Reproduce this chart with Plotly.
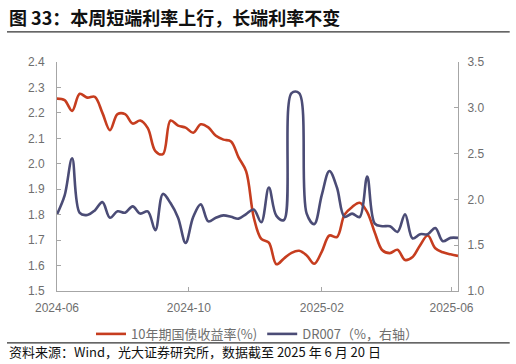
import pandas as pd
import plotly.graph_objects as go

dates = pd.date_range("2024-06-01", periods=54, freq="7D")

cgb10y = [2.256, 2.25, 2.208, 2.275, 2.26, 2.263, 2.20, 2.132, 2.195, 2.195,
          2.158, 2.17, 2.14, 2.05, 2.038, 2.17, 2.15, 2.142, 2.122, 2.155,
          2.143, 2.11, 2.095, 2.088, 2.025, 1.97, 1.79, 1.705, 1.69, 1.605,
          1.628, 1.65, 1.658, 1.64, 1.607, 1.655, 1.718, 1.712, 1.80, 1.83,
          1.847, 1.81, 1.73, 1.66, 1.649, 1.662, 1.622, 1.634, 1.68, 1.718,
          1.668, 1.652, 1.644, 1.638]

dr007 = [1.837, 2.04, 2.45, 1.852, 1.83, 1.88, 1.97, 1.80, 1.87, 1.855,
         1.924, 1.845, 1.87, 1.663, 2.06, 1.96, 1.80, 1.525, 1.808, 1.946,
         1.76, 1.80, 1.826, 1.81, 1.79, 1.84, 1.89, 1.75, 2.13, 1.82,
         1.775, 3.16, 3.16, 1.845, 1.73, 2.05, 2.31, 2.13, 1.81, 1.845,
         1.808, 2.25, 1.736, 1.707, 1.707, 1.645, 1.837, 1.573, 1.62, 1.62,
         1.688, 1.543, 1.58, 1.58]

tick_vals = ["2024-06-01", "2024-10-01", "2025-02-01", "2025-06-01"]
tick_text = ["2024-06", "2024-10", "2025-02", "2025-06"]

title_text = "图 33：本周短端利率上行，长端利率不变"
source_text = "资料来源：Wind，光大证券研究所，数据截至 2025 年 6 月 20 日"
name_red = "10年期国债收益率(%)"
name_blue = "DR007（%，右轴）"

RED = "#C63D1F"
BLUE = "#4B4C76"
AXIS = "#A6A6A6"
TICKFONT = dict(family="Liberation Sans, Arial, sans-serif", size=12, color="#6E6E6E")
CJK = "Noto Sans CJK SC, sans-serif"

fig = go.Figure()
fig.add_trace(go.Scatter(x=dates, y=cgb10y, name=name_red, mode="lines",
                         line=dict(color=RED, width=2.6, shape="spline", smoothing=1.0)))
fig.add_trace(go.Scatter(x=dates, y=dr007, name=name_blue, mode="lines", yaxis="y2",
                         line=dict(color=BLUE, width=2.6, shape="spline", smoothing=1.0)))

fig.update_layout(
    width=516, height=364,
    margin=dict(l=57.3, r=57.7, t=61.7, b=73, autoexpand=False),
    paper_bgcolor="white", plot_bgcolor="white",
    showlegend=True,
    legend=dict(orientation="h", x=0.5, xanchor="center", y=-(334 - 291) / 229.3, yanchor="middle",
                font=dict(family=CJK, size=13, color="#6E6E6E"),
                itemwidth=30, tracegroupgap=0, bgcolor="rgba(0,0,0,0)"),
    xaxis=dict(type="date", range=["2024-06-01", "2025-06-07"],
               tickvals=tick_vals, ticktext=tick_text,
               showline=True, linecolor=AXIS, linewidth=1,
               ticks="inside", ticklen=4, tickcolor=AXIS, ticklabelstandoff=6,
               showgrid=False, zeroline=False, tickfont=TICKFONT),
    yaxis=dict(range=[1.5, 2.4], dtick=0.1, tick0=1.5, tickformat=".1f",
               showline=True, linecolor=AXIS, linewidth=1,
               ticks="inside", ticklen=4, tickcolor=AXIS, ticklabelstandoff=9,
               showgrid=False, zeroline=False, tickfont=TICKFONT),
    yaxis2=dict(range=[1.0, 3.5], dtick=0.5, tick0=1.0, tickformat=".1f",
                overlaying="y", side="right",
                showline=True, linecolor=AXIS, linewidth=1,
                ticks="inside", ticklen=4, tickcolor=AXIS, ticklabelstandoff=6,
                showgrid=False, zeroline=False, tickfont=TICKFONT),
)

fig.add_annotation(text="<b>" + title_text + "</b>", xref="paper", yref="paper",
                   x=-50 / 401, y=1 + (61.7 - 17) / 229.3, xanchor="left", yanchor="middle",
                   showarrow=False, font=dict(family=CJK, size=18, color="#111111"))
fig.add_annotation(text=source_text, xref="paper", yref="paper",
                   x=-50 / 401, y=-(352 - 291) / 229.3, xanchor="left", yanchor="middle",
                   showarrow=False, font=dict(family=CJK, size=13, color="#111111"))

fig.add_shape(type="line", xref="paper", yref="paper",
              x0=-50 / 401, x1=(510 - 57.3) / 401,
              y0=1 + (61.7 - 31.5) / 229.3, y1=1 + (61.7 - 31.5) / 229.3,
              line=dict(color="#333333", width=1.2))
fig.add_shape(type="line", xref="paper", yref="paper",
              x0=-50 / 401, x1=(510 - 57.3) / 401,
              y0=-(343 - 291) / 229.3, y1=-(343 - 291) / 229.3,
              line=dict(color="#333333", width=1.2))

fig.write_html("out.html", config={"displayModeBar": False},
               post_script="document.body.style.margin='0';document.body.style.overflow='hidden';")
